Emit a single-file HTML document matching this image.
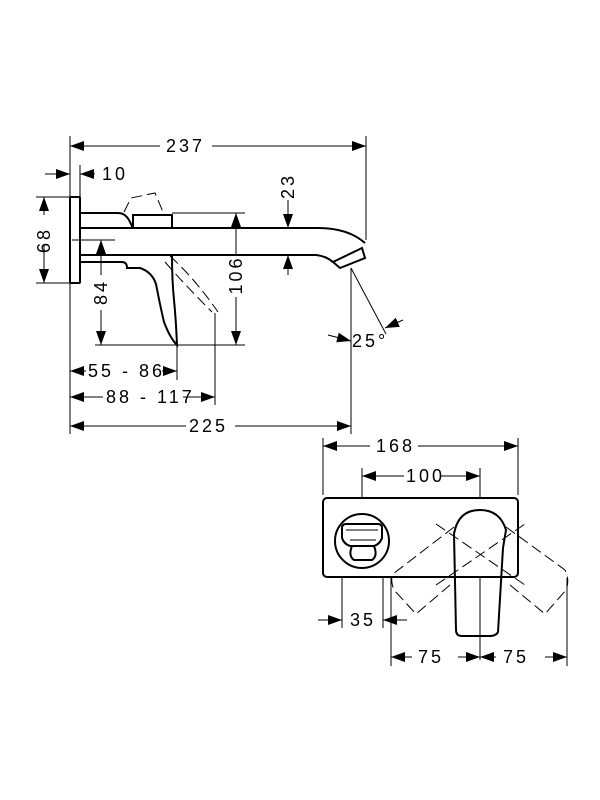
<!DOCTYPE html>
<html><head><style>html,body{margin:0;padding:0;background:#fff}svg{display:block}text{font-family:"Liberation Sans",sans-serif;font-size:18px;fill:#000;letter-spacing:3px}</style></head><body>
<svg width="600" height="800" viewBox="0 0 600 800" xmlns="http://www.w3.org/2000/svg">
<defs><marker id="a" viewBox="0 0 14 10" refX="14" refY="5" markerWidth="14" markerHeight="10" markerUnits="userSpaceOnUse" orient="auto-start-reverse"><path d="M0,0L14,5L0,10z" fill="#000"/></marker></defs>
<g stroke="#000" stroke-width="1" fill="none">
<line x1="70" y1="136" x2="70" y2="434"/><line x1="366" y1="136" x2="366" y2="240"/>
<line x1="80" y1="165" x2="80" y2="197"/>
<line x1="36" y1="197" x2="70" y2="197"/><line x1="36" y1="283" x2="70" y2="283"/>
<line x1="172" y1="213" x2="245" y2="213"/><line x1="95" y1="345" x2="245" y2="345"/>
<line x1="72" y1="240" x2="115" y2="240"/>
<line x1="258" y1="228" x2="300" y2="228"/><line x1="258" y1="255" x2="300" y2="255"/>
<line x1="177" y1="345" x2="177" y2="380"/><line x1="215" y1="313" x2="215" y2="405"/>
<line x1="351" y1="268" x2="351" y2="434"/>
<line x1="351" y1="268" x2="386" y2="334"/>
<line x1="70" y1="146" x2="160" y2="146" marker-start="url(#a)"/><line x1="212" y1="146" x2="366" y2="146" marker-end="url(#a)"/>
<line x1="45" y1="174" x2="70" y2="174" marker-end="url(#a)"/><line x1="95" y1="174" x2="80" y2="174" marker-end="url(#a)"/>
<line x1="44" y1="197" x2="44" y2="215" marker-start="url(#a)"/><line x1="44" y1="245" x2="44" y2="283" marker-end="url(#a)"/>
<line x1="101" y1="240" x2="101" y2="275" marker-start="url(#a)"/><line x1="101" y1="310" x2="101" y2="345" marker-end="url(#a)"/>
<line x1="236" y1="213" x2="236" y2="255" marker-start="url(#a)"/><line x1="236" y1="297" x2="236" y2="345" marker-end="url(#a)"/>
<line x1="288" y1="200" x2="288" y2="228" marker-end="url(#a)"/><line x1="288" y1="275" x2="288" y2="255" marker-end="url(#a)"/>
<line x1="70" y1="371" x2="86" y2="371" marker-start="url(#a)"/><line x1="162" y1="371" x2="177" y2="371" marker-end="url(#a)"/>
<line x1="70" y1="397" x2="103" y2="397" marker-start="url(#a)"/><line x1="183" y1="397" x2="215" y2="397" marker-end="url(#a)"/>
<line x1="70" y1="426" x2="186" y2="426" marker-start="url(#a)"/><line x1="235" y1="426" x2="351" y2="426" marker-end="url(#a)"/>
<line x1="328" y1="335" x2="351" y2="341" marker-end="url(#a)"/><line x1="403" y1="320" x2="385" y2="328" marker-end="url(#a)"/>
<g stroke-width="2">
<rect x="70" y="197" width="10" height="86" rx="1"/>
<path d="M80,213H118Q126,213 130,222L133,228"/>
<path d="M133,228V215H172V228"/>
<path d="M80,228H318Q348,228 365,243"/>
<path d="M80,255H316Q326,256 333,262"/>
<path d="M333,262L362,248L365,258L340,268Z"/>
<path d="M80,262H122Q127,262 127,268H140Q152,272 156,284Q160,305 164,322Q170,338 177,345Q176,320 174,300Q172,280 172,256"/>
</g>
<g stroke-dasharray="11,5">
<path d="M124,212L131,198L155,193L163,212"/>
<path d="M165,262Q185,285 212,312"/><path d="M170,256Q196,280 218,312"/>
</g>
<line x1="323" y1="438" x2="323" y2="495"/><line x1="518" y1="438" x2="518" y2="495"/>
<line x1="362" y1="468" x2="362" y2="500"/><line x1="480" y1="468" x2="480" y2="660"/>
<line x1="342" y1="555" x2="342" y2="628"/><line x1="383" y1="555" x2="383" y2="628"/>
<line x1="391" y1="578" x2="391" y2="666"/><line x1="567" y1="578" x2="567" y2="666"/>
<line x1="323" y1="446" x2="370" y2="446" marker-start="url(#a)"/><line x1="418" y1="446" x2="518" y2="446" marker-end="url(#a)"/>
<line x1="362" y1="476" x2="404" y2="476" marker-start="url(#a)"/><line x1="440" y1="476" x2="480" y2="476" marker-end="url(#a)"/>
<line x1="318" y1="620" x2="342" y2="620" marker-end="url(#a)"/><line x1="407" y1="620" x2="383" y2="620" marker-end="url(#a)"/>
<line x1="391" y1="657" x2="412" y2="657" marker-start="url(#a)"/><line x1="458" y1="657" x2="480" y2="657" marker-end="url(#a)"/>
<line x1="480" y1="657" x2="496" y2="657" marker-start="url(#a)"/><line x1="545" y1="657" x2="567" y2="657" marker-end="url(#a)"/>
<g stroke-width="2">
<rect x="323" y="498" width="195" height="79" rx="4" fill="#fff"/>
<circle cx="362" cy="541" r="27"/>
<path d="M342,528Q342,524 346,524H378Q382,524 382,528V538Q380,544 374,546H350Q344,544 342,538Z"/>
<path d="M352,546Q348,556 354,560H372Q378,556 374,546"/>
<path d="M454,534Q458,510 480,510Q500,510 506,530L503,548L498,632Q496,636 490,636H462Q456,636 456,630Z"/>
</g>
<path d="M346,530H378M350,540H376" stroke-width="1"/>
<g stroke-dasharray="11,5">
<path d="M454,527L393,574Q390,580 394,590L416,614L450,585"/><path d="M506,527L565,570Q570,580 566,590L545,614L510,585"/>
<path d="M436,585L525,524M436,524L525,585"/>
</g>
</g>
<text x="166" y="152">237</text>
<text x="102" y="180">10</text>
<text x="352" y="347">25°</text>
<text x="88" y="377">55 - 86</text>
<text x="106" y="403">88 - 117</text>
<text x="189" y="432">225</text>
<text x="376" y="452">168</text>
<text x="406" y="482">100</text>
<text x="350" y="626">35</text>
<text x="418" y="663">75</text>
<text x="503" y="663">75</text>
<text transform="translate(50,240) rotate(-90)" text-anchor="middle">68</text>
<text transform="translate(107,292) rotate(-90)" text-anchor="middle">84</text>
<text transform="translate(242,275) rotate(-90)" text-anchor="middle">106</text>
<text transform="translate(294,186) rotate(-90)" text-anchor="middle">23</text>
</svg>
</body></html>
